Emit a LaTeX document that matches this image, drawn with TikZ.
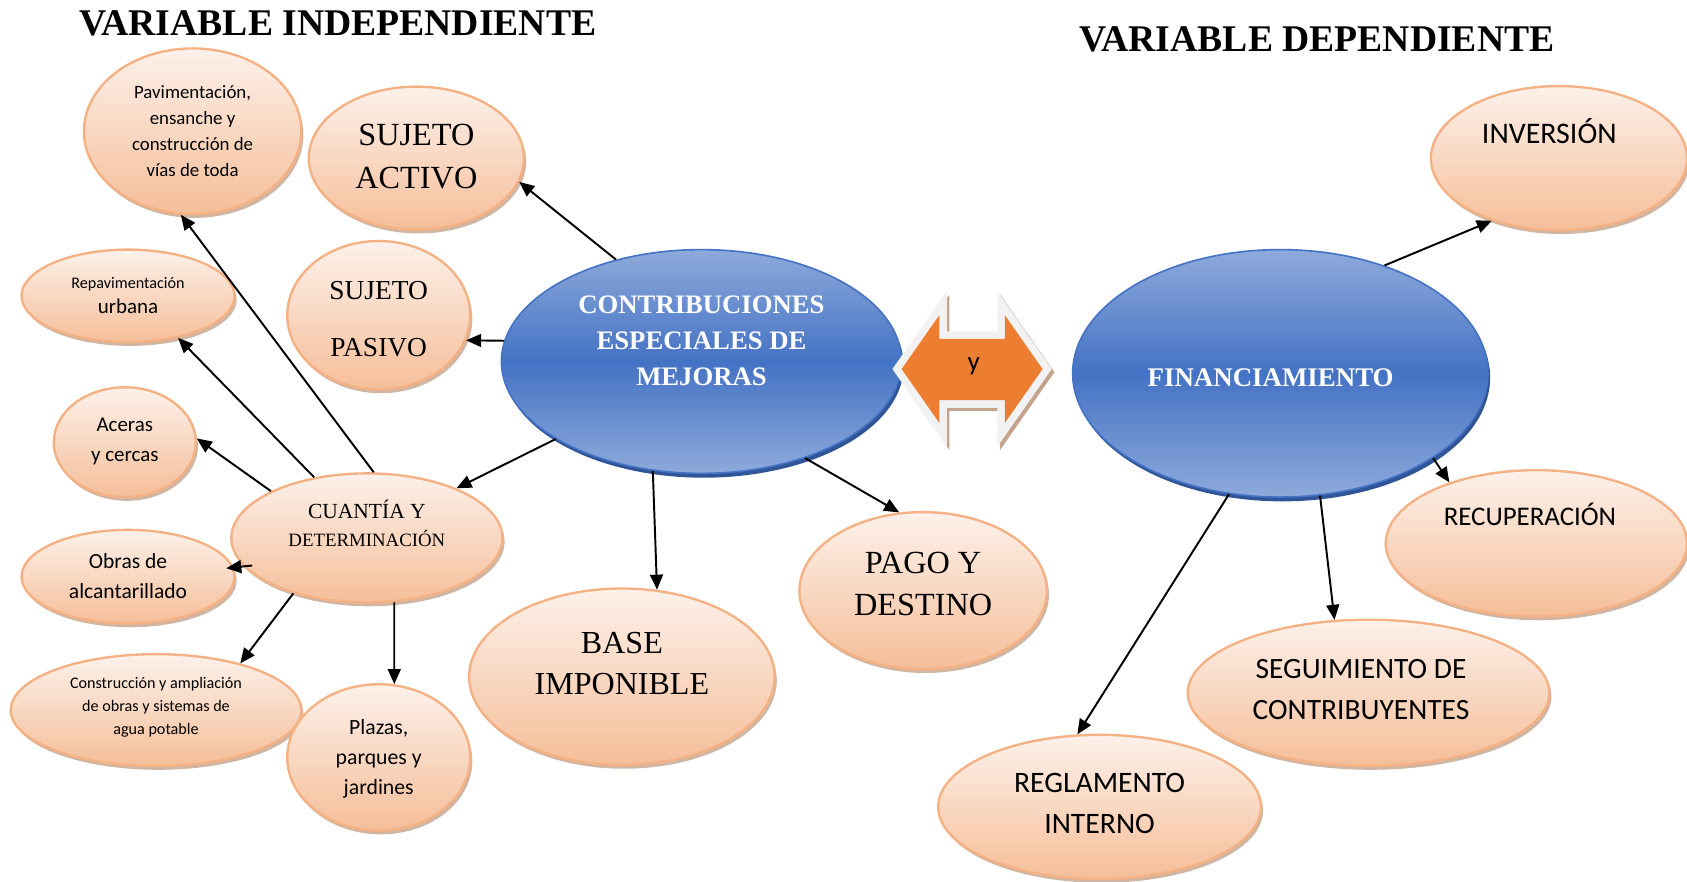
\documentclass[tikz,border=0pt]{standalone}
\usepackage{fontspec}
\setmainfont{Liberation Serif}
\newfontfamily\calib{Carlito}
\usetikzlibrary{arrows.meta, shapes.geometric, shadows}
\definecolor{durazno}{HTML}{F4B183}
\definecolor{melocoton}{HTML}{F5BE99}
\definecolor{crema}{HTML}{FDF1EA}
\definecolor{sombra}{HTML}{C4A38C}
\definecolor{azul}{HTML}{4472C4}
\definecolor{azulclaro}{HTML}{8EAADB}
\definecolor{azuloscuro}{HTML}{2F5597}
\definecolor{naranja}{HTML}{ED7D31}
\definecolor{contorno}{HTML}{F2F2F2}
\newcommand{\tam}[2]{\fontsize{#1}{#2}\selectfont}
\newcommand{\rotulo}[2]{\raisebox{\dimexpr#1-.3em\relax}[0pt][0pt]{\begin{tabular}{@{}c@{}}#2\end{tabular}}}
\newcommand{\pathdoble}{(838,343) -- (873,293) -- (873,315) -- (934,315) -- (934,293) -- (969,343) -- (934,393) -- (934,372) -- (873,372) -- (873,393) -- cycle}

\begin{document}
\begin{tikzpicture}[x=1pt, y=-1pt,
  hoja/.style={ellipse, draw=durazno, line width=2.2pt, inner sep=0pt,
    top color=crema, bottom color=melocoton,
    drop shadow={shadow xshift=2pt, shadow yshift=-3.5pt, fill=sombra, opacity=.8}},
  eje/.style={ellipse, draw=azul, line width=1.5pt, inner sep=0pt, text=white,
    top color=azulclaro, bottom color=azulclaro, middle color=azul,
    drop shadow={shadow xshift=2pt, shadow yshift=-4pt, fill=azuloscuro, opacity=1}},
  flecha/.style={-{Triangle[length=14pt,width=12pt]}, line width=1.8pt}]
  \useasboundingbox (0,0) rectangle (1568,819);

  % titulos
  \node[font=\bfseries\tam{35}{40}] (tind) at (314,22) {VARIABLE INDEPENDIENTE};
  \node[font=\bfseries\tam{35}{40}] (tdep) at (1224,37) {VARIABLE DEPENDIENTE};

  % variables
  \node[eje, minimum width=372pt, minimum height=208pt, font=\bfseries\tam{24.8}{33.5}] (ceem) at (652,336)
    {\rotulo{19pt}{CONTRIBUCIONES\\ESPECIALES DE\\MEJORAS}};
  \node[eje, minimum width=386pt, minimum height=230pt, font=\bfseries\tam{25}{33}] (fina) at (1190,347)
    {\rotulo{-4pt}{FINANCIAMIENTO\kern18pt}};

  % y
  \path[draw=contorno, line width=14pt, line join=miter,
    preaction={draw=sombra, line width=14pt, transform canvas={shift={(2.5pt,-3pt)}}},
    postaction={fill=naranja}] \pathdoble;
  \node[font=\calib\tam{25}{28}] (conj) at (905,340) {y};

  % independiente
  \node[hoja, minimum width=200pt, minimum height=133pt, font=\tam{30}{40}] (sact) at (387,147)
    {\rotulo{3pt}{SUJETO\\ACTIVO}};
  \node[hoja, minimum width=170pt, minimum height=138pt, font=\tam{25.5}{53}] (spas) at (352,293)
    {\rotulo{0pt}{SUJETO\\PASIVO}};
  \node[hoja, minimum width=284pt, minimum height=164pt, font=\tam{29.8}{38}] (base) at (578,629)
    {\rotulo{13pt}{BASE\\IMPONIBLE}};
  \node[hoja, minimum width=230pt, minimum height=146pt, font=\tam{30}{39}] (pago) at (858,549)
    {\rotulo{7pt}{PAGO Y\\DESTINO}};
  \node[hoja, minimum width=252pt, minimum height=120pt, font=\tam{20}{26}] (cuan) at (341,500)
    {\rotulo{11pt}{CUANTÍA Y\\{\tam{17.5}{26}DETERMINACIÓN}}};
  \node[hoja, minimum width=202pt, minimum height=154pt, font=\calib\tam{17.5}{24}] (pav) at (179,122)
    {\rotulo{0pt}{Pavimentación,\\ensanche y\\construcción de\\vías de toda}};
  \node[hoja, minimum width=198pt, minimum height=86pt, font=\calib\tam{15}{24}] (repav) at (119,275)
    {\rotulo{1pt}{Repavimentación\\{\tam{19.5}{24}urbana}}};
  \node[hoja, minimum width=132pt, minimum height=102pt, font=\calib\tam{19.5}{28}] (acer) at (116,411)
    {\rotulo{2pt}{Aceras\\y cercas}};
  \node[hoja, minimum width=198pt, minimum height=87pt, font=\calib\tam{20}{28}] (obra) at (119,536)
    {\rotulo{0pt}{Obras de\\alcantarillado}};
  \node[hoja, minimum width=270pt, minimum height=104pt, font=\calib\tam{15}{21.5}] (cons) at (145,660)
    {\rotulo{4pt}{Construcción y ampliación\\de obras y sistemas de\\agua potable}};
  \node[hoja, minimum width=170pt, minimum height=136pt, font=\calib\tam{20.2}{28}] (plaz) at (352,704)
    {\rotulo{0pt}{Plazas,\\parques y\\jardines}};

  % dependiente
  \node[hoja, minimum width=238pt, minimum height=134pt, font=\calib\tam{27.8}{38}] (inve) at (1449,147)
    {\rotulo{23pt}{INVERSIÓN\kern18pt}};
  \node[hoja, minimum width=280pt, minimum height=136pt, font=\calib\tam{25}{38}] (recu) at (1428,505)
    {\rotulo{25pt}{RECUPERACIÓN\kern12pt}};
  \node[hoja, minimum width=336pt, minimum height=136pt, font=\calib\tam{27.4}{38}] (segu) at (1272,644)
    {\rotulo{4pt}{SEGUIMIENTO DE\kern14pt\\CONTRIBUYENTES\kern14pt}};
  \node[hoja, minimum width=300pt, minimum height=134pt, font=\calib\tam{27.6}{38}] (regl) at (1022,750)
    {\rotulo{4pt}{REGLAMENTO\\INTERNO}};

  \draw[flecha] (ceem.130) -- (sact.-13);
  \draw[flecha] (ceem.174) -- (spas.-16);
  \draw[flecha] (ceem.208) -- (cuan.29);
  \draw[flecha] (ceem.246) -- (base.68);
  \draw[flecha] (ceem.-43) -- (pago.107);
  \draw[flecha] (cuan.84) -- (pav.262);
  \draw[flecha] (cuan.131) -- (repav.-40);
  \draw[flecha] (cuan.154) -- (acer.3);
  \draw[flecha, shorten <=-8pt, shorten >=-7pt] (cuan.193) -- (obra.5);
  \draw[flecha] (cuan.217) -- (cons.29);
  \draw[flecha] (cuan.293) -- (plaz.78);
  \draw[flecha] (fina.46) -- (inve.223);
  \draw[flecha] (fina.-29) -- (recu.145);
  \draw[flecha] (fina.-72) -- (segu.115);
  \draw[flecha] (fina.247) -- (regl.107);
\end{tikzpicture}
\end{document}
